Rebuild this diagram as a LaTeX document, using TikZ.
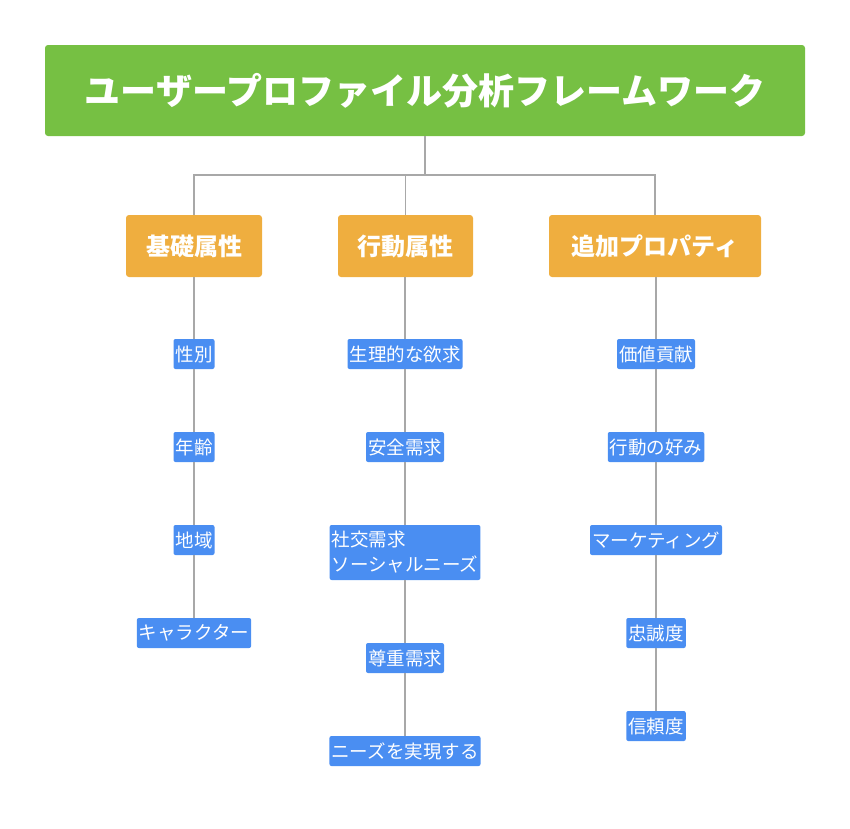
\documentclass[tikz,border=0pt]{standalone}
\usepackage{fontspec}
\setmainfont{Noto Sans CJK JP}
\definecolor{tg}{HTML}{76C043}
\definecolor{og}{HTML}{EFAE3F}
\definecolor{bl}{HTML}{4A8EF2}
\definecolor{ln}{HTML}{A8A8A8}
\begin{document}
\begin{tikzpicture}[x=1pt,y=-1pt,
 title/.style={fill=tg,text=white,font=\bfseries\fontsize{36}{40}\selectfont,minimum width=760pt,minimum height=91pt,rounded corners=3pt,inner sep=0},
 cat/.style={fill=og,text=white,font=\bfseries\fontsize{24}{28}\selectfont,minimum height=62pt,rounded corners=3pt,inner sep=0},
 leaf/.style={fill=bl,text=white,font=\fontsize{18.5}{25}\selectfont,minimum height=30pt,rounded corners=2pt,inner xsep=2pt,inner ysep=0,align=left},
 con/.style={draw=ln,line width=1.2pt}]
\useasboundingbox (0,0) rectangle (850,828);
\node[title] (t) at (425,90.5) {ユーザープロファイル分析フレームワーク};
\node[cat,minimum width=136pt] (c1) at (194,246) {基礎属性};
\node[cat,minimum width=135pt] (c2) at (405.5,246) {行動属性};
\node[cat,minimum width=212pt] (c3) at (655,246) {追加プロパティ};
\coordinate (j) at (425,175);
\draw[con] (t.south) -- (j);
\draw[con] (c1.north) |- (j) -| (c3.north);
\draw[con] (c2.north) -- (c2.north|-j);
\node[leaf] (a1) at (194,354) {性別};
\node[leaf] (a2) at (194,447) {年齢};
\node[leaf] (a3) at (194,540) {地域};
\node[leaf] (a4) at (194,633) {キャラクター};
\node[leaf] (b1) at (405,354) {生理的な欲求};
\node[leaf] (b2) at (405,447) {安全需求};
\node[leaf,minimum height=55pt] (b3) at (405,552.5) {社交需求\\ソーシャルニーズ};
\node[leaf] (b4) at (405,658) {尊重需求};
\node[leaf] (b5) at (405,751) {ニーズを実現する};
\node[leaf] (d1) at (656,354) {価値貢献};
\node[leaf] (d2) at (656,447) {行動の好み};
\node[leaf] (d3) at (656,540) {マーケティング};
\node[leaf] (d4) at (656,633) {忠誠度};
\node[leaf] (d5) at (656,726) {信頼度};
\draw[con] (c1.south) -- (a1) -- (a2) -- (a3) -- (a4);
\draw[con] (c2.south-|b1) -- (b1) -- (b2) -- (b3) -- (b4) -- (b5);
\draw[con] (c3.south-|d1) -- (d1) -- (d2) -- (d3) -- (d4) -- (d5);
\end{tikzpicture}
\end{document}
